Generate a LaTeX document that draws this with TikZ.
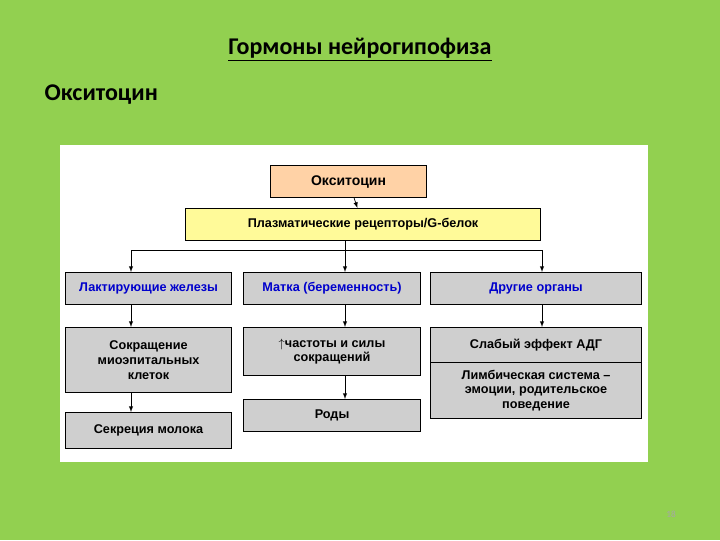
\documentclass[tikz,border=0pt]{standalone}
\usepackage{fontspec}
\setmainfont{Liberation Sans}
\newfontfamily\calfont{Carlito}
\begin{document}
\begin{tikzpicture}[x=0.75pt,y=-0.75pt,
 bx/.style={draw=black,line width=0.8pt,fill=gray!38,font=\bfseries\fontsize{9.5}{11}\selectfont,align=center,anchor=north west,inner sep=0pt},
 ar/.style={-latex,line width=0.5pt}]
\fill[fill={rgb,255:red,146;green,208;blue,80}] (0,0) rectangle (720,540);
\fill[white] (60,145) rectangle (648,462);
\node[font=\calfont\fontsize{18}{20}\selectfont\bfseries] (t) at (360,50) {\underline{Гормоны нейрогипофиза}};
\node[font=\calfont\fontsize{18}{20}\selectfont\bfseries,anchor=west] (t2) at (40,95) {Окситоцин};
\node[font=\calfont\fontsize{7}{8}\selectfont,text=gray!70] (n) at (671,514) {18};
\node[bx,fill=orange!35,minimum width=156*0.75pt,minimum height=32*0.75pt,font=\bfseries\fontsize{10.5}{12}\selectfont] (a) at (270,165) {Окситоцин};
\node[bx,fill=yellow!40,minimum width=355*0.75pt,minimum height=32*0.75pt] (b) at (185,208) {Плазматические рецепторы/G-белок};
\node[bx,minimum width=166*0.75pt,minimum height=32*0.75pt,text=blue!80!black] (l1) at (65,272) {Лактирующие железы};
\node[bx,minimum width=177*0.75pt,minimum height=32*0.75pt,text=blue!80!black] (m1) at (243,272) {Матка (беременность)};
\node[bx,minimum width=211*0.75pt,minimum height=32*0.75pt,text=blue!80!black] (r1) at (430,272) {Другие органы};
\node[bx,minimum width=166*0.75pt,minimum height=65*0.75pt] (l2) at (65,327) {Сокращение\\миоэпитальных\\клеток};
\node[bx,minimum width=166*0.75pt,minimum height=36*0.75pt] (l3) at (65,412) {Секреция молока};
\node[bx,minimum width=177*0.75pt,minimum height=48*0.75pt] (m2) at (243,327) {$\uparrow$частоты и силы\\сокращений};
\node[bx,minimum width=177*0.75pt,minimum height=32*0.75pt] (m3) at (243,399) {Роды};
\node[bx,minimum width=211*0.75pt,minimum height=35*0.75pt] (r2) at (430,327) {Слабый эффект АДГ};
\node[bx,minimum width=211*0.75pt,minimum height=56*0.75pt] (r3) at (430,362) {Лимбическая система –\\эмоции, родительское\\поведение};
\draw[ar] (a) -- (b);
\coordinate (bus) at (345,250);
\coordinate (bl) at (131,250);
\coordinate (br) at (542,250);
\draw[line width=0.5pt] (b.south -| bus) -- (bus);
\draw[line width=0.5pt] (bl) -- (br);
\draw[ar] (bl) -- (bl |- l1.north);
\draw[ar] (bus) -- (bus |- m1.north);
\draw[ar] (br) -- (br |- r1.north);
\draw[ar] (l1.south -| bl) -- (l2.north -| bl);
\draw[ar] (l2.south -| bl) -- (l3.north -| bl);
\draw[ar] (m1.south -| bus) -- (m2.north -| bus);
\draw[ar] (m2.south -| bus) -- (m3.north -| bus);
\draw[ar] (r1.south -| br) -- (r2.north -| br);
\end{tikzpicture}
\end{document}
